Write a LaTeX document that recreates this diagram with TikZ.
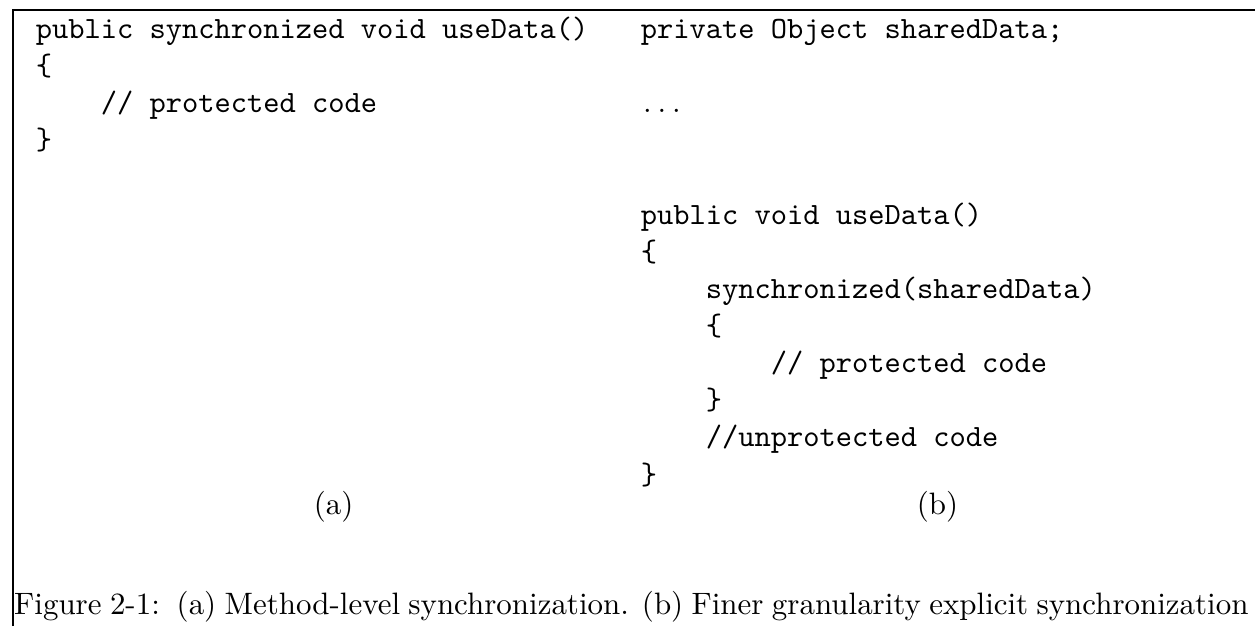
\documentclass[tikz,border=0pt]{standalone}
\begin{document}
\begin{tikzpicture}[x=1pt,y=1pt,
  codeline/.style={anchor=base west, inner sep=0pt, font=\ttfamily},
  sublabel/.style={anchor=base, inner sep=0pt, font=\rmfamily},
  captext/.style={anchor=base west, inner sep=0pt, font=\rmfamily},
  framerule/.style={line width=0.55pt}]
\useasboundingbox (0,0) rectangle (405.5,-202.3);
% frame (top and left rules only)
\coordinate (fbl) at (4.3,-202.3);
\coordinate (ftl) at (4.3,-3.2);
\coordinate (ftr) at (405.5,-3.2);
\draw[framerule] (fbl) -- (ftl) -- (ftr);
% left column (a)
\node[codeline] (a1) at (11.4,-12.4) {public synchronized void useData()};
\node[codeline] (a2) at (11.4,-24.4) {\{};
\node[codeline] (a3) at (32.4,-36.4) {// protected code};
\node[codeline] (a4) at (11.4,-48.4) {\}};
% right column (b)
\node[codeline] (b1) at (206.9,-12.4) {private Object sharedData;};
\node[anchor=base west, inner sep=0pt, font=\rmfamily] (b3) at (207.6,-36.4) {.\kern1.9pt.\kern1.9pt.};
\node[codeline] (b6) at (206.9,-72.4) {public void useData()};
\node[codeline] (b7) at (206.9,-84.4) {\{};
\node[codeline] (b8) at (227.9,-96.4) {synchronized(sharedData)};
\node[codeline] (b9) at (227.9,-108.4) {\{};
\node[codeline] (b10) at (248.9,-120.4) {// protected code};
\node[codeline] (b11) at (227.9,-132.4) {\}};
\node[codeline] (b12) at (227.9,-144.4) {//unprotected code};
\node[codeline] (b13) at (206.9,-156.4) {\}};
% sub-labels
\node[sublabel] (la) at (107.8,-166.4) {(a)};
\node[sublabel] (lb) at (302.9,-166.4) {(b)};
% caption
\node[captext] (cap) at (4.4,-198.7) {\hbox to 398.8pt{Figure 2-1:\ \ (a) Method-level synchronization. (b) Finer granularity explicit synchronization}};
\end{tikzpicture}
\end{document}
